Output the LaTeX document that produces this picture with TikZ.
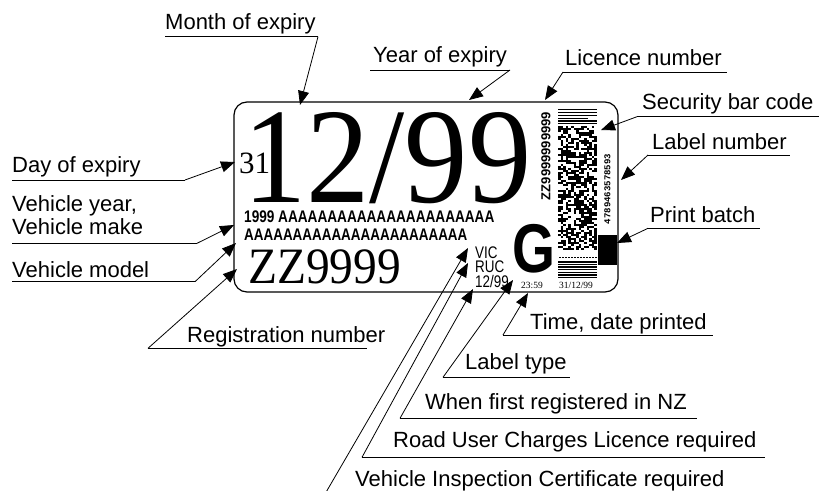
\documentclass[tikz,border=0pt]{standalone}
\usepackage{fontspec}
\setmainfont{Liberation Serif}
\newfontfamily\labfont{Liberation Sans}
\newfontfamily\monofnt{Liberation Mono}
\usetikzlibrary{arrows.meta}
\begin{document}
\begin{tikzpicture}[x=1pt,y=-1pt,
  lbl/.style={anchor=base west, inner sep=0pt, font=\labfont\fontsize{22}{24}\selectfont},
  uline/.style={line width=0.7pt},
  leader/.style={line width=0.8pt, -{Triangle[length=14pt,width=11pt]}},
  plain/.style={anchor=base west, inner sep=0pt}]
\useasboundingbox (0,0) rectangle (819,490);

% ---- the label card ----
\draw[line width=1.2pt, rounded corners=13pt] (234,102) rectangle (618,292);

\node[plain, font=\fontsize{136}{140}\selectfont] (mm) at (243,202) {\scalebox{0.93}[1]{12/99}};
\node[plain, font=\fontsize{31}{33}\selectfont] (day) at (239,173) {31};
\node[plain, font=\labfont\bfseries\fontsize{16.8}{18}\selectfont] (make) at (244,222) {\scalebox{0.81}[1]{1999 AAAAAAAAAAAAAAAAAAAAAA}};
\node[plain, font=\labfont\bfseries\fontsize{16.8}{18}\selectfont] (model) at (244,240) {\scalebox{0.80}[1]{AAAAAAAAAAAAAAAAAAAAAAA}};
\node[plain, font=\fontsize{51}{53}\selectfont] (reg) at (248,283) {\scalebox{0.93}[1]{ZZ9999}};
\node[plain, font=\labfont\fontsize{16.8}{18}\selectfont] (vic) at (475,258) {\scalebox{0.8}[1]{VIC}};
\node[plain, font=\labfont\fontsize{16.8}{18}\selectfont] (ruc) at (475,272) {\scalebox{0.8}[1]{RUC}};
\node[plain, font=\labfont\fontsize{16.8}{18}\selectfont] (nz) at (475,287) {\scalebox{0.8}[1]{12/99}};
\node[plain, font=\labfont\bfseries\fontsize{69}{70}\selectfont] (gg) at (512,272) {\scalebox{0.8}[1]{G}};
\node[plain, font=\fontsize{9.5}{10}\selectfont] (tm) at (521,288) {23:59};
\node[plain, font=\fontsize{9.5}{10}\selectfont] (dt) at (559,288) {31/12/99};
\node[rotate=90, inner sep=0pt, font=\labfont\bfseries\fontsize{13}{14}\selectfont] (lic) at (546,156) {ZZ9999999999};
\node[rotate=90, inner sep=0pt, font=\monofnt\bfseries\fontsize{9}{10}\selectfont] (lbn) at (607.5,189) {4789463578593};

% barcode stripes
\foreach \a/\b in {108.5/110,111.5/113,114.5/115.5,117.5/118.5,120/121.5,123/124.3}
  \fill (558,\a) rectangle (597,\b);
\fill[white] (588,117) rectangle (597,119);
\pgfmathsetseed{11}
\foreach \j in {0,...,61} {
  \foreach \i in {0,...,14} {
    \pgfmathtruncatemacro\bit{rnd>0.42}
    \ifnum\bit=1 \fill (558+\i*2.6,126+\j*2) rectangle ++(2.6,2); \fi
  }
}
\foreach \k in {0,...,12} \fill (559+\k*3,256.5) rectangle ++(1.6,1.2);
\foreach \a/\b in {261/262.5,263.8/265,266.3/267.6,268.8/270.2,271.5/273,274.3/275.5,276.8/278}
  \fill (558,\a) rectangle (597,\b);
\fill (598,235) rectangle (617,265);

% ---- callouts ----
\node[lbl] (t1) at (165,29) {Month of expiry};
\coordinate (a1) at (165,36.7); \coordinate (b1) at (318,36.7); \coordinate (p1) at (300,105);
\draw[uline] (a1) -- (b1); \draw[leader] (b1) -- (p1);

\node[lbl] (t2) at (373,62) {Year of expiry};
\coordinate (a2) at (370,70); \coordinate (b2) at (510,70); \coordinate (p2) at (469,100);
\draw[uline] (a2) -- (b2); \draw[leader] (b2) -- (p2);

\node[lbl] (t3) at (565,65) {Licence number};
\coordinate (a3) at (563,72); \coordinate (b3) at (727,72); \coordinate (p3) at (545,100);
\draw[uline] (a3) -- (b3); \draw[leader] (a3) -- (p3);

\node[lbl] (t4) at (642,109) {Security bar code};
\coordinate (a4) at (637,116.7); \coordinate (b4) at (819,116.7); \coordinate (p4) at (601,130);
\draw[uline] (a4) -- (b4); \draw[leader] (a4) -- (p4);

\node[lbl] (t5) at (652,149) {Label number};
\coordinate (a5) at (648,155); \coordinate (b5) at (790,155); \coordinate (p5) at (621,180);
\draw[uline] (a5) -- (b5); \draw[leader] (a5) -- (p5);

\node[lbl] (t6) at (650,222.5) {Print batch};
\coordinate (a6) at (648,228.3); \coordinate (b6) at (760,228.3); \coordinate (p6) at (617,243);
\draw[uline] (a6) -- (b6); \draw[leader] (a6) -- (p6);

\node[lbl] (t7) at (530,329) {Time, date printed};
\coordinate (a7) at (503,335); \coordinate (b7) at (713,335); \coordinate (p7) at (528,293);
\draw[uline] (a7) -- (b7); \draw[leader] (a7) -- (p7);

\node[lbl] (t8) at (465,369) {Label type};
\coordinate (a8) at (443,377.3); \coordinate (b8) at (570,377.3); \coordinate (p8) at (513,280);
\draw[uline] (a8) -- (b8); \draw[leader] (a8) -- (p8);

\node[lbl] (t9) at (425,409) {When first registered in NZ};
\coordinate (a9) at (400,418.3); \coordinate (b9) at (697,418.3); \coordinate (p9) at (473,289);
\draw[uline] (a9) -- (b9); \draw[leader] (a9) -- (p9);

\node[lbl] (t10) at (393,447.5) {Road User Charges Licence required};
\coordinate (a10) at (362,457.3); \coordinate (b10) at (765,457.3); \coordinate (p10) at (468,263);
\draw[uline] (a10) -- (b10); \draw[leader] (a10) -- (p10);

\node[lbl] (t11) at (355,486) {Vehicle Inspection Certificate required};
\coordinate (a11) at (325,494); \coordinate (b11) at (735,494); \coordinate (p11) at (468,248);
\draw[uline] (a11) -- (b11); \draw[leader] (a11) -- (p11);

\node[lbl] (t12) at (12,172.5) {Day of expiry};
\coordinate (a12) at (12,180); \coordinate (b12) at (185,180); \coordinate (p12) at (235,162);
\draw[uline] (a12) -- (b12); \draw[leader] (b12) -- (p12);

\node[lbl] (t13) at (12,211) {Vehicle year,};
\node[lbl] (t13b) at (12,234) {Vehicle make};
\coordinate (a13) at (12,243.3); \coordinate (b13) at (197,243.3); \coordinate (p13) at (234,225);
\draw[uline] (a13) -- (b13); \draw[leader] (b13) -- (p13);

\node[lbl] (t14) at (12,277) {Vehicle model};
\coordinate (a14) at (12,281.7); \coordinate (b14) at (195,281.7); \coordinate (p14) at (236,243);
\draw[uline] (a14) -- (b14); \draw[leader] (b14) -- (p14);

\node[lbl] (t15) at (187,342.5) {Registration number};
\coordinate (a15) at (148,348.3); \coordinate (b15) at (367,348.3); \coordinate (p15) at (237,269);
\draw[uline] (a15) -- (b15); \draw[leader] (a15) -- (p15);
\end{tikzpicture}
\end{document}
